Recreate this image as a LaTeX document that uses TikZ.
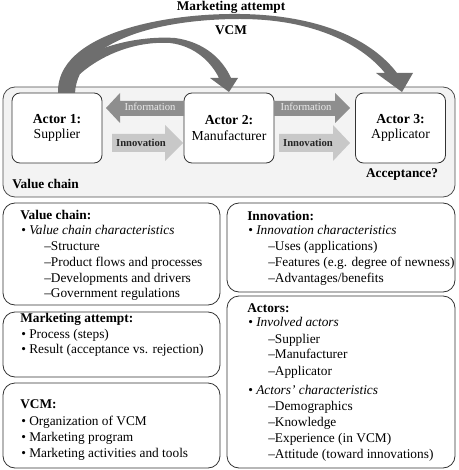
\documentclass[tikz,border=0pt]{standalone}
\usepackage{fontspec}
\setmainfont{Liberation Serif}
\definecolor{bggray}{HTML}{F3F3F3}
\definecolor{arcgray}{HTML}{6E6E6E}
\definecolor{infogray}{HTML}{8E8E8E}
\definecolor{innogray}{HTML}{C8C8C8}
\begin{document}
\begin{tikzpicture}[x=0.75pt,y=-0.75pt,
  box/.style={draw=black!80, line width=0.6pt, rounded corners=9pt, fill=white},
  actor/.style={draw=black!80, line width=0.6pt, rounded corners=6pt, fill=white,
    minimum width=67.5pt, minimum height=52.5pt, inner sep=0pt, align=center,
    font=\fontsize{10.3}{11.3}\selectfont},
  hd/.style={anchor=base west, inner sep=0pt, font=\bfseries\fontsize{10}{12}\selectfont},
  ln/.style={anchor=base west, inner sep=0pt, font=\fontsize{10}{12}\selectfont},
  lbl/.style={inner sep=0pt, anchor=base, font=\bfseries\fontsize{10}{12}\selectfont},
  infotxt/.style={inner sep=0pt, anchor=base, text=white!92!black, font=\fontsize{8}{9}\selectfont},
  innotxt/.style={inner sep=0pt, anchor=base, text=black!85, font=\bfseries\fontsize{8}{9}\selectfont},
]
\useasboundingbox (0,0) rectangle (458,470);

% value chain background
\draw[fill=bggray, draw=black!70, line width=0.6pt, rounded corners=9pt] (3,87) rectangle (455,197);

% actors
\node[actor] (a1) at (57,128) {\textbf{Actor 1:}\\Supplier};
\node[actor] (a2) at (229,128) {\textbf{Actor 2:}\\Manufacturer};
\node[actor] (a3) at (400.5,128) {\textbf{Actor 3:}\\Applicator};

% information arrows
\fill[infogray] (184,101) -- (120,101) -- (120,93) -- (106,108) -- (120,123) -- (120,116) -- (184,116) -- cycle;
\fill[infogray] (274,101) -- (335,101) -- (335,93) -- (350,108) -- (335,123) -- (335,116) -- (274,116) -- cycle;
% innovation arrows
\fill[innogray] (112,134) -- (165,134) -- (165,125) -- (183,143) -- (165,161) -- (165,152) -- (112,152) -- cycle;
\fill[innogray] (279,134) -- (333,134) -- (333,125) -- (350,143) -- (333,161) -- (333,152) -- (279,152) -- cycle;

\node[infotxt] (inf1) at (150,111) {Information};
\node[infotxt] (inf2) at (306,111) {Information};
\node[innotxt] (inn1) at (141,147) {Innovation};
\node[innotxt] (inn2) at (308,147) {Innovation};

% VCM arrows (swooshes)
\fill[arcgray] (58,93) .. controls (56,35) and (160,13) .. (240,14)
  .. controls (320,15) and (372,40) .. (397,73)
  -- (413,73) -- (402,92) -- (376,73) -- (385,73)
  .. controls (362,45) and (315,19) .. (240,19)
  .. controls (160,19) and (78,40) .. (75,93) -- cycle;
\fill[arcgray] (76,62) .. controls (105,42) and (148,36) .. (175,38)
  .. controls (205,42) and (223,60) .. (231,78)
  -- (238,78) -- (229,92) -- (210,78) -- (219,78)
  .. controls (211,62) and (195,46) .. (170,43)
  .. controls (140,41) and (105,52) .. (80,74) -- cycle;

% top labels
\node[lbl] (ma) at (231,11) {Marketing attempt};
\node[lbl] (vcm) at (231,35) {VCM};
\node[lbl, anchor=base west] (vcl) at (12,188) {Value chain};
\node[lbl] (acc) at (402,177) {Acceptance?};

% bottom boxes
\draw[box] (3,203) rectangle (220,305);
\draw[box] (3,312) rectangle (220,377);
\draw[box] (3,383) rectangle (220,468);
\draw[box] (227,203) rectangle (455,292);
\draw[box] (227,296) rectangle (455,468);

% value chain box
\node[hd] (vct) at (20,219) {Value chain:};
\node[ln] (vc1) at (21,234) {\textbullet\ \textit{Value chain characteristics}};
\node[ln] (vc2) at (44,250) {\textendash Structure};
\node[ln] (vc3) at (44,266) {\textendash Product flows and processes};
\node[ln] (vc4) at (44,282) {\textendash Developments and drivers};
\node[ln] (vc5) at (44,297) {\textendash Government regulations};

% marketing attempt box
\node[hd] (mat) at (20,322) {Marketing attempt:};
\node[ln] (ma1) at (21,338) {\textbullet\ Process (steps)};
\node[ln] (ma2) at (21,353) {\textbullet\ Result (acceptance vs. rejection)};

% VCM box
\node[hd] (vcmt) at (20,408) {VCM:};
\node[ln] (vm1) at (21,425) {\textbullet\ Organization of VCM};
\node[ln] (vm2) at (21,441) {\textbullet\ Marketing program};
\node[ln] (vm3) at (21,457) {\textbullet\ Marketing activities and tools};

% innovation box
\node[hd] (int) at (247,220) {Innovation:};
\node[ln] (in1) at (248,234) {\textbullet\ \textit{Innovation characteristics}};
\node[ln] (in2) at (268,250) {\textendash Uses (applications)};
\node[ln] (in3) at (268,266) {\textendash Features (e.g. degree of newness)};
\node[ln] (in4) at (268,282) {\textendash Advantages/benefits};

% actors box
\node[hd] (act) at (247,312) {Actors:};
\node[ln] (ac1) at (248,326) {\textbullet\ \textit{Involved actors}};
\node[ln] (ac2) at (268,343) {\textendash Supplier};
\node[ln] (ac3) at (268,358) {\textendash Manufacturer};
\node[ln] (ac4) at (268,375) {\textendash Applicator};
\node[ln] (ac5) at (248,394) {\textbullet\ \textit{Actors' characteristics}};
\node[ln] (ac6) at (268,410) {\textendash Demographics};
\node[ln] (ac7) at (268,426) {\textendash Knowledge};
\node[ln] (ac8) at (268,442) {\textendash Experience (in VCM)};
\node[ln] (ac9) at (268,458) {\textendash Attitude (toward innovations)};
\end{tikzpicture}
\end{document}
